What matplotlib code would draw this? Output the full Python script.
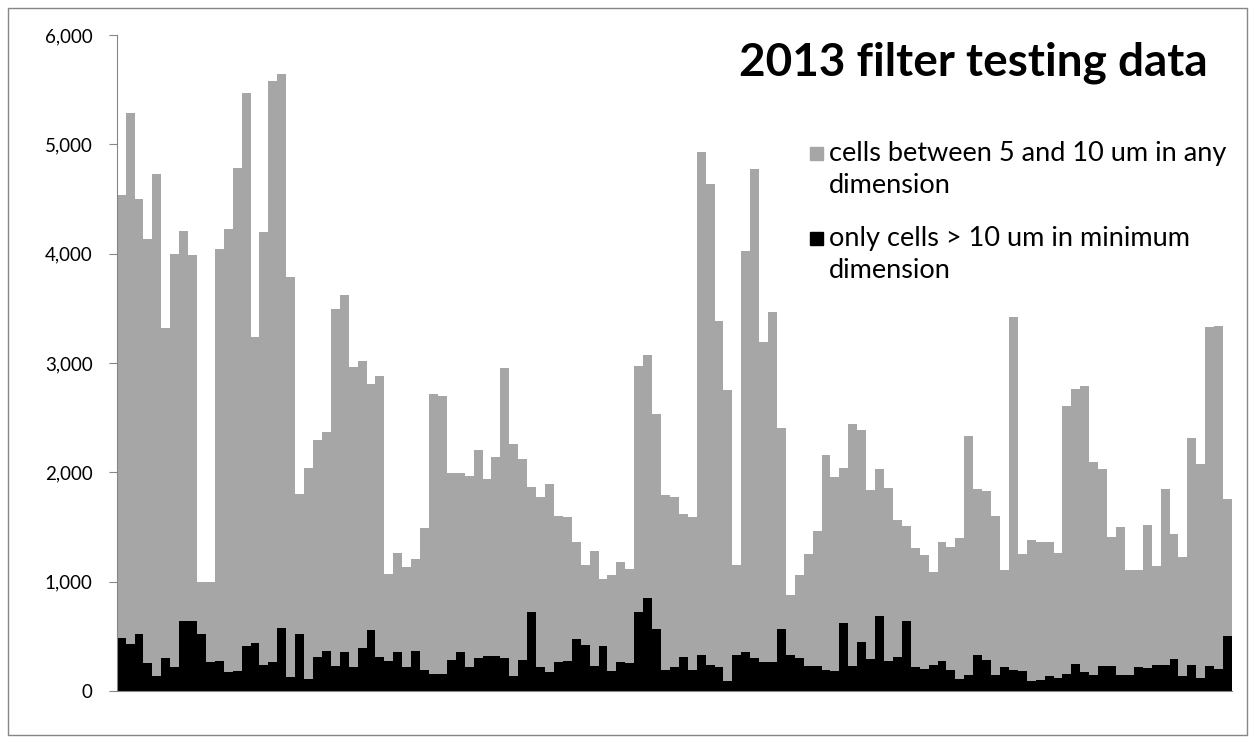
import matplotlib
matplotlib.use("Agg")
import matplotlib.pyplot as plt
from matplotlib.patches import Rectangle
from matplotlib.ticker import FuncFormatter

plt.rcParams['font.family'] = ['Lato', 'DejaVu Sans']

# cells between 5 and 10 um (gray, total) - one value per filter test
all_cells = [4540, 5290, 4500, 4130, 4730, 3320, 4000, 4210, 3990, 1000,
             1000, 4040, 4230, 4780, 5470, 3240, 4200, 5580, 5640, 3790,
             1800, 2040, 2300, 2370, 3490, 3620, 2960, 3020, 2810, 2880,
             1070, 1260, 1130, 1210, 1490, 2720, 2700, 1990, 1990, 1970,
             2200, 1940, 2140, 2950, 2260, 2120, 1870, 1770, 1890, 1600,
             1590, 1360, 1150, 1280, 1020, 1060, 1180, 1120, 2970, 3070,
             2530, 1790, 1770, 1620, 1590, 4930, 4640, 3380, 2750, 1150,
             4020, 4770, 3190, 3470, 2410, 880, 1060, 1250, 1460, 2160,
             1960, 2040, 2440, 2390, 1840, 2030, 1860, 1560, 1510, 1310,
             1240, 1090, 1365, 1315, 1400, 2330, 1850, 1830, 1600, 1110,
             3420, 1250, 1385, 1365, 1365, 1265, 2610, 2760, 2790, 2090,
             2030, 1410, 1500, 1110, 1110, 1520, 1140, 1850, 1440, 1230,
             2310, 2080, 3330, 3340, 1760]

# only cells > 10 um in minimum dimension (black)
big_cells = [485, 430, 521, 253, 137, 299, 220, 637, 637, 524,
             265, 274, 174, 183, 415, 439, 241, 265, 579, 125,
             521, 113, 308, 369, 229, 357, 216, 390, 555, 308,
             277, 357, 220, 369, 195, 159, 159, 287, 357, 220,
             299, 320, 320, 299, 134, 287, 720, 216, 174, 265,
             277, 473, 418, 229, 415, 183, 265, 253, 720, 848,
             567, 195, 216, 308, 195, 332, 241, 216, 91, 332,
             357, 299, 265, 265, 567, 332, 299, 229, 229, 195,
             183, 625, 229, 448, 290, 683, 277, 308, 637, 216,
             198, 241, 274, 195, 113, 143, 332, 287, 143, 216,
             195, 180, 88, 98, 134, 116, 159, 250, 171, 146,
             226, 226, 143, 143, 216, 207, 241, 241, 290, 134,
             241, 116, 226, 198, 500]

y_ticks = [0, 1000, 2000, 3000, 4000, 5000, 6000]
title = '2013 filter testing data'
label_all = ['cells between 5 and 10 um in any', 'dimension']
label_big = ['only cells > 10 um in minimum', 'dimension']

W, H = 1255, 743
fig = plt.figure(figsize=(W / 100, H / 100), dpi=100)

def fx(px):
    return px / W

def fy(py):
    return 1 - py / H

ax = fig.add_axes([fx(116.7), fy(691), fx(1232) - fx(116.7), fy(35) - fy(691)])
x = list(range(len(all_cells)))
ax.bar(x, all_cells, width=1.0, color='#a6a6a6', linewidth=0)
ax.bar(x, big_cells, width=1.0, color='black', linewidth=0)

ax.set_xlim(-0.5, len(all_cells) - 0.5)
ax.set_ylim(0, 6000)
ax.set_yticks(y_ticks)
ax.yaxis.set_major_formatter(FuncFormatter(lambda v, p: f'{v:,.0f}'))
ax.tick_params(axis='y', length=5.8, width=0.8, color='#868686', pad=11.5,
               labelsize=13.5, labelcolor='black')
ax.set_xticks([])
for s in ['top', 'right']:
    ax.spines[s].set_visible(False)
for s in ['left', 'bottom']:
    ax.spines[s].set_color('#868686')
    ax.spines[s].set_linewidth(0.8)

# title inside the plot area
fig.text(fx(973), fy(63), title, ha='center', va='center',
         fontsize=33, fontweight='bold', color='black')

# legend drawn by hand so the square sits next to the first line
for base, color, lines in [(161, '#a6a6a6', label_all), (246, 'black', label_big)]:
    fig.patches.append(Rectangle((fx(810), fy(base - 1)), 13 / W, 13 / H,
                                 transform=fig.transFigure, color=color))
    for i, line in enumerate(lines):
        fig.text(fx(829), fy(base + i * 32), line, ha='left',
                 va='baseline', fontsize=19.5, color='black')

# chart border
fig.patches.append(Rectangle((fx(8), fy(735)), fx(1247) - fx(8), fy(8) - fy(735),
                             transform=fig.transFigure, fill=False,
                             edgecolor='#868686', linewidth=1))

fig.savefig('out.png', dpi=100)
